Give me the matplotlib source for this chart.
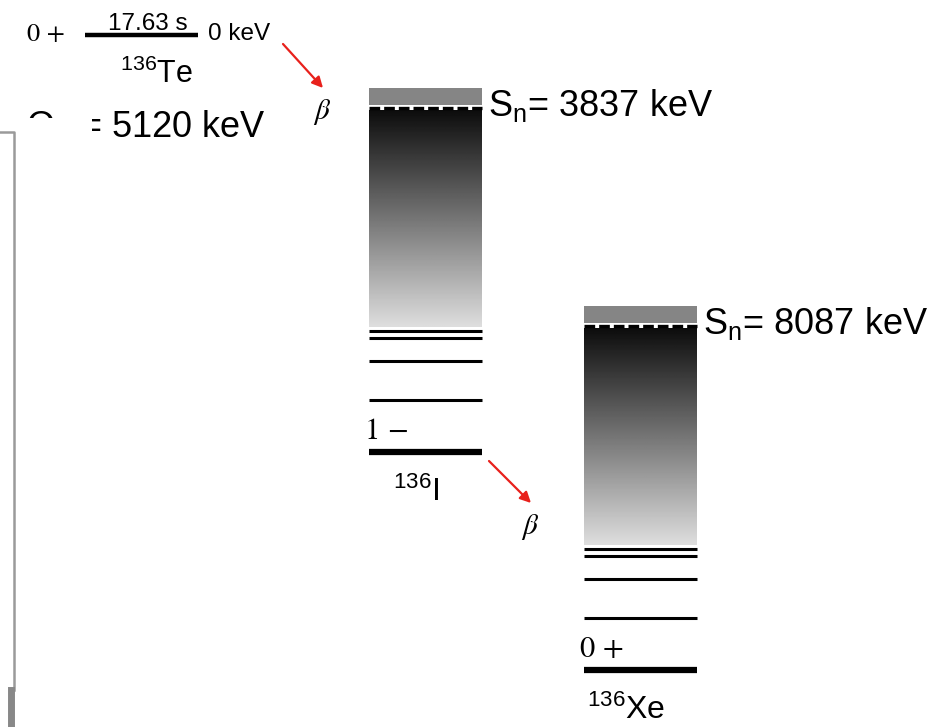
import matplotlib
matplotlib.use('Agg')
import matplotlib.pyplot as plt
import numpy as np
from matplotlib.patches import Rectangle

plt.rcParams['font.family'] = ['Liberation Sans', 'DejaVu Sans']
plt.rcParams['mathtext.fontset'] = 'custom'
plt.rcParams['mathtext.rm'] = 'Liberation Sans'
plt.rcParams['mathtext.default'] = 'regular'

# level scheme data (schematic energy units, ground of 136Xe = 0)
nuclei = [r'$^{136}$Te', r'$^{136}$I', r'$^{136}$Xe']
spins = ['0 +', '1 \u2212', '0 +']
ground_e = [635, 218, 0]          # where each ground state sits
sn_kev = [None, 3837, 8087]
q_kev = 5120
half_life = '17.63 s'
levels = [52, 91, 114, 121]        # discrete excited levels above ground
cont_lo, cont_hi = 124.5, 341      # quasi-continuum region
sn_e = 344.5                        # neutron separation line
band_top = 364                      # unbound region

col_x = [85, 369, 584]
col_w = 113
label_dx = [15, 47, 42]

fig = plt.figure(figsize=(9.45, 7.27), dpi=100)
ax = fig.add_axes([0, 0, 1, 1])

# 136Te ground state
x0, g = col_x[0], ground_e[0]
ax.plot([x0, x0 + col_w], [g, g], color='black', lw=3.2, solid_capstyle='butt')
ax.text(27, g, spins[0], fontsize=19, family='STIXGeneral', va='center', ha='left')
ax.text(x0 + col_w / 2 + 6, g + 0.5, half_life, fontsize=17.5, ha='center', va='bottom')
ax.text(x0 + col_w + 10, g + 1, '0 keV', fontsize=17.5, ha='left', va='center')
ax.text(x0 + col_w / 2 + label_dx[0], g - 39, nuclei[0], fontsize=22, ha='center', va='center')
ax.text(266, g - 94, r'Q$_\beta$ = %d keV' % q_kev, fontsize=26, ha='right', va='center')

# white cover + frame of the overlapping panel on the left
ax.add_patch(Rectangle((-5, -60), 97, 670 - 118 + 60, facecolor='white',
                       edgecolor='none', zorder=5))
ax.plot([0, 14, 14], [670 - 132, 670 - 132, 670 - 690], color='#9a9a9a', lw=1.8, zorder=6)
ax.plot([11, 11], [670 - 690, -57], color='#888888', lw=5, zorder=6)

grad = np.linspace(0.05, 0.87, 256).reshape(-1, 1)
for i in (1, 2):
    x0, g = col_x[i], ground_e[i]
    # unbound band
    ax.add_patch(Rectangle((x0, g + sn_e + 2.5), col_w, band_top - sn_e - 2.5,
                           facecolor='#858585', edgecolor='none'))
    # continuum gradient
    ax.imshow(grad, cmap='gray', vmin=0, vmax=1, aspect='auto',
              extent=[x0, x0 + col_w, g + cont_lo, g + cont_hi], interpolation='bilinear')
    # S_n dashed line
    ax.plot([x0, x0 + col_w], [g + sn_e, g + sn_e], color='black', lw=2.4,
            dashes=(3.2, 1.2))
    # discrete levels
    for e in levels:
        ax.plot([x0, x0 + col_w], [g + e, g + e], color='black', lw=2.2,
                solid_capstyle='butt')
    ax.plot([x0, x0 + col_w], [g, g], color='black', lw=4.5, solid_capstyle='butt')
    ax.text(x0 - 4, g + 20, spins[i], fontsize=22, family='STIXGeneral', va='center', ha='left')
    ax.text(x0 + col_w + 6, g + sn_e + 2, r'S$_n$= %d keV' % sn_kev[i], fontsize=26,
            ha='left', va='center')
    ax.text(x0 + label_dx[i], g - 40, nuclei[i], fontsize=23, ha='center', va='center')

ax.set_xlim(0, 945)
ax.set_ylim(-57, 670)
ax.axis('off')

# beta decay arrows
arrows = [((283, 670 - 44), (323, 670 - 88)), ((489, 670 - 461), (531, 670 - 503))]
for (xs, ys), (xe, ye) in arrows:
    ax.annotate('', xy=(xe, ye), xytext=(xs, ys),
                arrowprops=dict(arrowstyle='-|>', color='#e8211c', lw=1.6,
                                mutation_scale=16, shrinkA=0, shrinkB=0))
    ax.text(xe - 1, ye - 24, '\u03b2', fontsize=21, family='STIXGeneral', style='italic',
            ha='center', va='center')

fig.savefig('out.png', dpi=100)
